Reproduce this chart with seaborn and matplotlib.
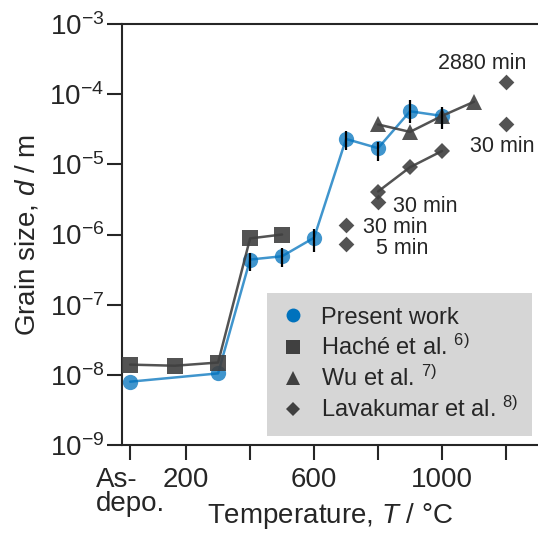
import numpy as np
import pandas as pd
import seaborn as sns
import matplotlib.pyplot as plt
from matplotlib.lines import Line2D

# data (temperature in degC, grain size in m)
# "As-depo." is placed at room temperature
pw_T = [25, 300, 400, 500, 600, 700, 800, 900, 1000]
pw_d = [8.0e-9, 1.05e-8, 4.4e-7, 4.9e-7, 9.0e-7, 2.3e-5, 1.7e-5, 5.7e-5, 4.9e-5]
pw_hi = [np.nan, np.nan, 5.5e-7, 6.5e-7, 1.18e-6, 2.96e-5, 2.1e-5, 8.2e-5, 6.5e-5]
pw_lo = [np.nan, np.nan, 3.0e-7, 3.5e-7, 5.7e-7, 1.58e-5, 1.1e-5, 3.85e-5, 3.2e-5]

hache_T = [25, 165, 300, 400, 500]
hache_d = [1.4e-8, 1.35e-8, 1.5e-8, 8.8e-7, 1.0e-6]

wu_T = [800, 900, 1000, 1100]
wu_d = [3.7e-5, 2.9e-5, 4.9e-5, 7.8e-5]

lava_line_T = [800, 900, 1000]
lava_line_d = [4.1e-6, 9.1e-6, 1.55e-5]
lava_pts_T = [700, 700, 800, 1200, 1200]
lava_pts_d = [1.35e-6, 7.4e-7, 2.9e-6, 1.5e-4, 3.8e-5]

xticks = [25, 200, 400, 600, 800, 1000, 1200]
xticklabels = ['As-\ndepo.', '200', '', '600', '', '1000', '']

blue = '#0072bd'
gray = '#404040'

sns.set_style('ticks')
plt.rcParams['font.family'] = ['Liberation Sans', 'DejaVu Sans']
plt.rcParams['mathtext.fontset'] = 'custom'
plt.rcParams['mathtext.rm'] = 'Liberation Sans'
plt.rcParams['mathtext.it'] = 'Liberation Sans:italic'

fig = plt.figure(figsize=(5.38, 5.33), dpi=100)
ax = fig.add_axes([0.227, 0.165, 0.773, 0.79])

pw = pd.DataFrame({'T': pw_T, 'd': pw_d})
sns.lineplot(data=pw, x='T', y='d', sort=False, estimator=None, ax=ax,
             color=blue, alpha=0.75, lw=1.8, marker='o', markersize=11,
             markeredgewidth=0, zorder=2)
sns.lineplot(x=hache_T, y=hache_d, sort=False, estimator=None, ax=ax,
             color=gray, alpha=0.9, lw=1.8, marker='s', markersize=11.5,
             markeredgewidth=0, zorder=3)
sns.lineplot(x=wu_T, y=wu_d, sort=False, estimator=None, ax=ax,
             color=gray, alpha=0.9, lw=1.8, marker='^', markersize=11,
             markeredgewidth=0, zorder=3)
sns.lineplot(x=lava_line_T, y=lava_line_d, sort=False, estimator=None, ax=ax,
             color=gray, alpha=0.9, lw=1.8, marker='D', markersize=8,
             markeredgewidth=0, zorder=3)
sns.scatterplot(x=lava_pts_T, y=lava_pts_d, ax=ax, color=gray, alpha=0.9,
                marker='D', s=64, linewidth=0, zorder=3)

yerr = [np.array(pw_d) - np.array(pw_lo), np.array(pw_hi) - np.array(pw_d)]
ax.errorbar(pw_T, pw_d, yerr=yerr, fmt='none', ecolor='black', elinewidth=1.6,
            capsize=0, zorder=5)

# annealing time notes
ax.text(987, 2.7e-4, '2880 min', fontsize=15.5, ha='left', va='center')
ax.text(1087, 1.8e-5, '30 min', fontsize=15.5, ha='left', va='center')
ax.text(847, 2.5e-6, '30 min', fontsize=15.5, ha='left', va='center')
ax.text(956, 1.25e-6, '30 min', fontsize=15.5, ha='right', va='center')
ax.text(956, 6.4e-7, '5 min', fontsize=15.5, ha='right', va='center')

ax.set_yscale('log')
ax.set_ylim(1e-9, 1e-3)
ax.set_xlim(0, 1300)
ax.set_xticks(xticks)
ax.set_xticklabels(xticklabels, fontsize=20, multialignment='left',
                   linespacing=0.9)
ax.minorticks_off()
ax.tick_params(axis='y', labelsize=20)
ax.tick_params(direction='out', length=11, width=1.5)
ax.tick_params(axis='x', pad=5)
ax.tick_params(axis='y', pad=2)
ax.set_xlabel('Temperature, $T$ / °C', fontsize=20, labelpad=-11.5)
ax.set_ylabel('Grain size, $d$ / m', fontsize=20, labelpad=6)
for s in ['left', 'bottom', 'top']:
    ax.spines[s].set_linewidth(1.5)
ax.spines['right'].set_visible(False)

handles = [
    Line2D([], [], ls='', marker='o', color=blue, markersize=10, markeredgewidth=0),
    Line2D([], [], ls='', marker='s', color=gray, markersize=10, markeredgewidth=0),
    Line2D([], [], ls='', marker='^', color=gray, markersize=10, markeredgewidth=0),
    Line2D([], [], ls='', marker='D', color=gray, markersize=7, markeredgewidth=0),
]
labels = ['Present work', 'Haché et al. $^{6)}$', 'Wu et al. $^{7)}$',
          'Lavakumar et al. $^{8)}$']
leg = ax.legend(handles, labels, loc='lower right', bbox_to_anchor=(0.986, 0.021),
                fontsize=17, frameon=True, fancybox=False, framealpha=1,
                facecolor='#d6d6d6', edgecolor='none', borderpad=0.6,
                labelspacing=0.25, handletextpad=0.7, handlelength=1.0,
                borderaxespad=0)

fig.savefig('out.png', dpi=100)
